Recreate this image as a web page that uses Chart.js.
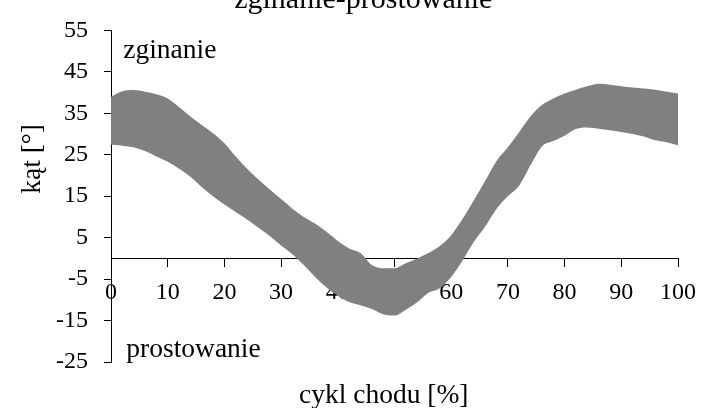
<!DOCTYPE html>
<html>
<head>
<meta charset="utf-8">
<script src="https://cdn.jsdelivr.net/npm/chart.js@4/dist/chart.umd.min.js"></script>
<style>
  body { margin: 0; background: #fff; }
  #wrap { width: 708px; height: 408px; }
</style>
</head>
<body>
<div id="wrap"><canvas id="katChart" width="708" height="408"></canvas></div>
<script>
// cykl chodu [%]
const cycle = [0, 2, 4, 6, 8, 10, 12, 14, 16, 18, 20, 22, 24, 26, 28, 30, 32, 34, 36, 38, 40,
  42, 44, 46, 48, 50, 52, 54, 56, 58, 60, 62, 64, 66, 68, 70, 72, 74, 76, 78, 80,
  82, 84, 86, 88, 90, 92, 94, 96, 98, 100];

// górna granica pasma
const upper = [39.0, 40.3, 40.6, 40.2, 39.6, 38.6, 36.5, 34.2, 32.2, 30.2, 27.8,
  24.6, 21.6, 19.0, 16.6, 14.3, 12.0, 10.0, 8.4, 6.4, 4.2,
  2.4, 1.3, -1.6, -2.4, -2.4, -1.2, 0.0, 1.3, 3.0, 5.6,
  9.5, 14.0, 18.7, 23.5, 26.8, 30.5, 34.3, 37.0, 38.6, 39.8,
  40.7, 41.5, 42.1, 41.9, 41.5, 41.2, 41.0, 40.7, 40.2, 39.8];

// dolna granica pasma
const lower = [27.4, 27.2, 26.8, 25.9, 24.6, 23.3, 21.6, 19.7, 17.2, 15.0, 13.0,
  11.2, 9.4, 7.4, 5.4, 3.1, 1.0, -1.6, -4.5, -7.0, -9.0,
  -10.5, -11.3, -12.2, -13.5, -13.8, -12.4, -10.6, -8.3, -7.2, -4.5,
  -0.5, 4.0, 7.7, 12.0, 15.0, 17.6, 22.5, 27.0, 28.3, 29.6,
  31.2, 31.6, 31.3, 30.9, 30.5, 30.0, 29.4, 28.5, 28.0, 27.3];

const yTicks = [-25, -15, -5, 5, 15, 25, 35, 45, 55];

const serif = "'Liberation Serif', 'Times New Roman', serif";
Chart.defaults.font.family = serif;
Chart.defaults.color = '#000';

// napisy: tytuł, osie i opisy kierunku ruchu
const textLabels = {
  id: 'textLabels',
  afterDraw(chart) {
    const { ctx, chartArea, scales: { x, y } } = chart;
    ctx.save();
    ctx.fillStyle = '#000';
    ctx.textBaseline = 'alphabetic';

    ctx.font = '30px ' + serif;
    ctx.textAlign = 'center';
    ctx.fillText('zginanie-prostowanie', x.getPixelForValue(44.5), 8);

    ctx.font = '27.5px ' + serif;
    ctx.textAlign = 'left';
    ctx.fillText('zginanie', x.getPixelForValue(2.15), y.getPixelForValue(48.3));
    ctx.fillText('prostowanie', x.getPixelForValue(2.7), y.getPixelForValue(-23.9));

    ctx.textAlign = 'center';
    ctx.fillText('cykl chodu [%]', x.getPixelForValue(48.1), chartArea.bottom + 41);

    ctx.translate(32.5, y.getPixelForValue(24));
    ctx.rotate(-Math.PI / 2);
    ctx.textBaseline = 'middle';
    ctx.fillText('kąt [°]', 0, 0);
    ctx.restore();
  }
};

new Chart(document.getElementById('katChart'), {
  type: 'line',
  data: {
    datasets: [{
      label: 'dolna',
      data: cycle.map((c, i) => ({ x: c, y: lower[i] })),
      borderWidth: 0,
      pointRadius: 0,
      fill: false,
      cubicInterpolationMode: 'monotone'
    }, {
      label: 'górna',
      data: cycle.map((c, i) => ({ x: c, y: upper[i] })),
      borderWidth: 0,
      pointRadius: 0,
      backgroundColor: '#808080',
      fill: '-1',
      cubicInterpolationMode: 'monotone'
    }]
  },
  options: {
    responsive: false,
    animation: false,
    devicePixelRatio: 1,
    layout: { padding: { left: 11, top: 22, right: 24, bottom: 46 } },
    plugins: {
      legend: { display: false },
      tooltip: { enabled: false }
    },
    scales: {
      x: {
        type: 'linear',
        position: { y: 0 },
        min: 0,
        max: 100,
        ticks: { stepSize: 10, padding: 12, font: { size: 24 }, maxRotation: 0 },
        grid: { drawOnChartArea: false, tickLength: 8, color: '#000' },
        border: { color: '#000', width: 1 }
      },
      y: {
        type: 'linear',
        position: 'left',
        min: -25,
        max: 55,
        afterBuildTicks: s => { s.ticks = yTicks.map(v => ({ value: v })); },
        afterFit: s => { s.width = 100; },
        ticks: { padding: 16, font: { size: 24 } },
        grid: { drawOnChartArea: false, tickLength: 7, color: '#000' },
        border: { color: '#000', width: 1 }
      }
    }
  },
  plugins: [textLabels]
});
</script>
</body>
</html>
